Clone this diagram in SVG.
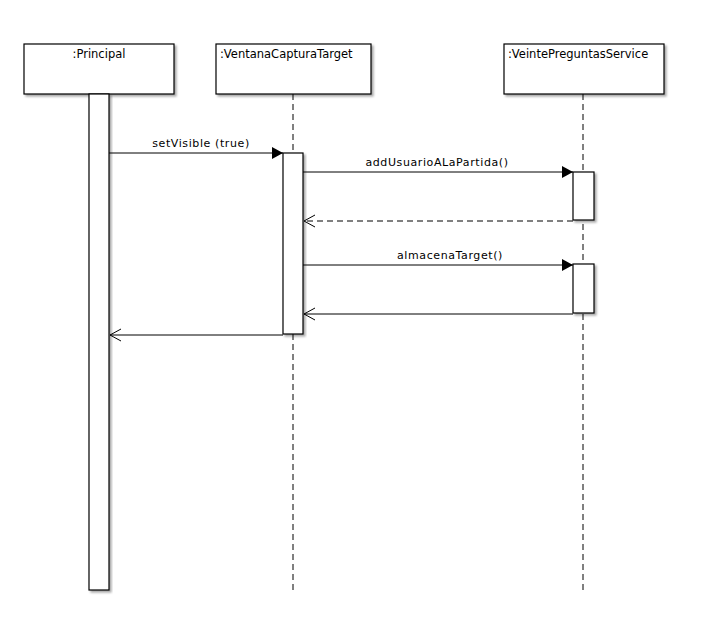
<svg xmlns="http://www.w3.org/2000/svg" width="726" height="636" viewBox="0 0 726 636">
<defs>
<filter id="sh" x="-10%" y="-10%" width="130%" height="130%"><feDropShadow dx="2" dy="2" stdDeviation="1" flood-color="#000" flood-opacity="0.35"/></filter>
<marker id="fill" markerWidth="12" markerHeight="12" refX="11" refY="6" orient="auto" markerUnits="userSpaceOnUse"><path d="M0,0 L11,6 L0,12 Z" fill="#000"/></marker>
<marker id="open" markerWidth="14" markerHeight="14" refX="12" refY="7" orient="auto" markerUnits="userSpaceOnUse"><path d="M1,1 L12,7 L1,13" fill="none" stroke="#000" stroke-width="1"/></marker>
</defs>
<style>
.box{fill:#fff;stroke:#000;stroke-width:1.2;filter:url(#sh)}
.act{fill:#fff;stroke:#000;stroke-width:1.2;filter:url(#sh)}
.life{stroke:#000;stroke-dasharray:6,4;stroke-width:1}
.msg{stroke:#000;stroke-width:1;fill:none}
text{font-family:"DejaVu Sans","Liberation Sans",sans-serif;font-size:11.5px;fill:#000}
.lbl{font-size:11px;letter-spacing:0.6px}
</style>
<rect width="726" height="636" fill="#fff"/>
<g id="principal">
<rect class="box" x="24" y="44" width="150" height="50"/>
<text x="99" y="58" text-anchor="middle">:Principal</text>
<rect class="act" x="89" y="94" width="20" height="496"/>
</g>
<g id="ventana">
<line class="life" x1="293" y1="94" x2="293" y2="590"/>
<rect class="box" x="216" y="44" width="155" height="50"/>
<text x="220" y="58">:VentanaCapturaTarget</text>
<rect class="act" x="283" y="153" width="20" height="181"/>
</g>
<g id="veinte">
<line class="life" x1="583" y1="94" x2="583" y2="590"/>
<rect class="box" x="504" y="44" width="160" height="50"/>
<text x="508" y="58">:VeintePreguntasService</text>
<rect class="act" x="573" y="172" width="21" height="48"/>
<rect class="act" x="573" y="264" width="21" height="49"/>
</g>
<g id="connectors">
<line class="msg" x1="109" y1="153" x2="283" y2="153" marker-end="url(#fill)"/>
<text class="lbl" x="201" y="147" text-anchor="middle">setVisible (true)</text>
<line class="msg" x1="303" y1="172" x2="573" y2="172" marker-end="url(#fill)"/>
<text class="lbl" x="437" y="166" text-anchor="middle">addUsuarioALaPartida()</text>
<line class="msg" x1="573" y1="221" x2="304" y2="221" stroke-dasharray="6,4" marker-end="url(#open)"/>
<line class="msg" x1="303" y1="265" x2="573" y2="265" marker-end="url(#fill)"/>
<text class="lbl" x="450" y="259" text-anchor="middle">almacenaTarget()</text>
<line class="msg" x1="573" y1="314" x2="304" y2="314" marker-end="url(#open)"/>
<line class="msg" x1="283" y1="335" x2="110" y2="335" marker-end="url(#open)"/>
</g>
</svg>
